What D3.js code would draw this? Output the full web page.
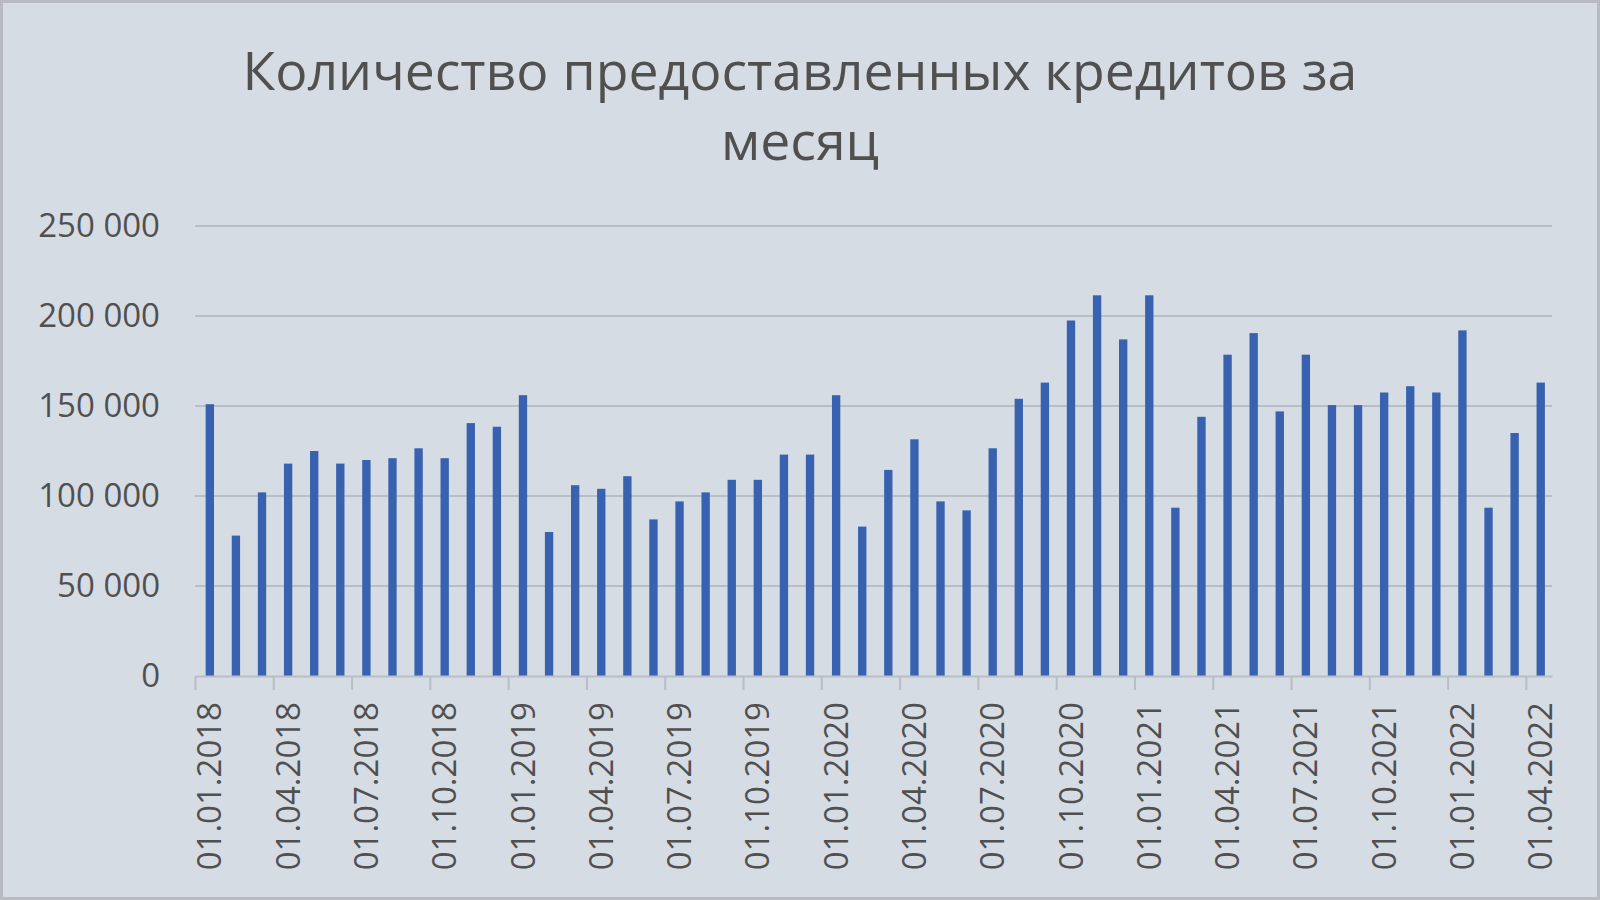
<!DOCTYPE html>
<html>
<head>
<meta charset="utf-8">
<script src="https://cdn.jsdelivr.net/npm/d3@7"></script>
<style>
  html, body { margin: 0; padding: 0; background: #d6dce4; }
  svg { display: block; }
</style>
</head>
<body>
<svg id="chart" width="1600" height="900"></svg>
<script>
// months (first day of each month), one bar per month
var months = [
  "01.01.2018","01.02.2018","01.03.2018","01.04.2018","01.05.2018","01.06.2018",
  "01.07.2018","01.08.2018","01.09.2018","01.10.2018","01.11.2018","01.12.2018",
  "01.01.2019","01.02.2019","01.03.2019","01.04.2019","01.05.2019","01.06.2019",
  "01.07.2019","01.08.2019","01.09.2019","01.10.2019","01.11.2019","01.12.2019",
  "01.01.2020","01.02.2020","01.03.2020","01.04.2020","01.05.2020","01.06.2020",
  "01.07.2020","01.08.2020","01.09.2020","01.10.2020","01.11.2020","01.12.2020",
  "01.01.2021","01.02.2021","01.03.2021","01.04.2021","01.05.2021","01.06.2021",
  "01.07.2021","01.08.2021","01.09.2021","01.10.2021","01.11.2021","01.12.2021",
  "01.01.2022","01.02.2022","01.03.2022","01.04.2022"
];

// number of loans per month
var loans = [
  151000, 78000, 102000, 118000, 125000, 118000,
  120000, 121000, 126500, 121000, 140500, 138500,
  156000, 80000, 106000, 104000, 111000, 87000,
  97000, 102000, 109000, 109000, 123000, 123000,
  156000, 83000, 114500, 131500, 97000, 92000,
  126500, 154000, 163000, 197500, 211500, 187000,
  211500, 93500, 144000, 178500, 190500, 147000,
  178500, 150500, 150500, 157500, 161000, 157500,
  192000, 93500, 135000, 163000
];

// labelled months on the x axis (every quarter)
var xTickLabels = [
  "01.01.2018","01.04.2018","01.07.2018","01.10.2018",
  "01.01.2019","01.04.2019","01.07.2019","01.10.2019",
  "01.01.2020","01.04.2020","01.07.2020","01.10.2020",
  "01.01.2021","01.04.2021","01.07.2021","01.10.2021",
  "01.01.2022","01.04.2022"
];

var yTicks = [0, 50000, 100000, 150000, 200000, 250000];

var titleLines = ["Количество предоставленных кредитов за", "месяц"];

var textColor = "#505050";
var gridColor = "#b9bdc5";
var barColor = "#3862b0";
var font = "'Open Sans', 'Noto Sans', sans-serif";

var svg = d3.select("#chart");

// background + outer frame
svg.append("rect")
  .attr("x", 1.5).attr("y", 1.5)
  .attr("width", 1597).attr("height", 897)
  .attr("fill", "#d6dce4")
  .attr("stroke", "#b7bac1")
  .attr("stroke-width", 3);

// plot area edges
var plotL = 195, plotR = 1552, plotT = 226, plotB = 676;

// scales
var x = d3.scaleBand()
  .domain(months)
  .range([plotL, plotR])
  .paddingInner(0.68)
  .paddingOuter(0.34)
  .align(0.6);

var xSlot = d3.scaleLinear()
  .domain([0, months.length])
  .range([plotL, plotR]);

var y = d3.scaleLinear()
  .domain([0, 250000])
  .range([plotB, plotT]);

// gridlines
svg.append("g")
  .selectAll("line")
  .data(yTicks.filter(d => d > 0))
  .enter()
  .append("line")
    .attr("x1", plotL)
    .attr("x2", plotR)
    .attr("y1", d => y(d))
    .attr("y2", d => y(d))
    .attr("stroke", gridColor)
    .attr("stroke-width", 2);

// y axis labels (no axis line)
var fmt = d => d3.format(",")(d).replace(/,/g, " ");
var yAxis = svg.append("g")
  .attr("transform", "translate(" + plotL + ",0)")
  .call(d3.axisLeft(y).tickValues(yTicks).tickFormat(fmt).tickSize(0).tickPadding(35));
yAxis.select(".domain").remove();
yAxis.selectAll("text")
  .attr("fill", textColor)
  .style("font-family", font)
  .style("font-size", "33px");

// bars
svg.append("g")
  .selectAll("rect")
  .data(loans)
  .enter()
  .append("rect")
    .attr("x", (d, i) => x(months[i]))
    .attr("y", d => y(d))
    .attr("width", x.bandwidth())
    .attr("height", d => y(0) - y(d))
    .attr("fill", barColor);

// x axis line + quarter tick marks at slot edges
var tickIdx = xTickLabels.map(l => months.indexOf(l));
var xTicksAxis = svg.append("g")
  .attr("transform", "translate(0," + plotB + ")")
  .call(d3.axisBottom(xSlot).tickValues(tickIdx).tickFormat("").tickSize(14).tickSizeOuter(0));
xTicksAxis.select(".domain").attr("stroke", gridColor).attr("stroke-width", 2);
xTicksAxis.selectAll(".tick line").attr("stroke", gridColor).attr("stroke-width", 2);

// x labels, centred on their month slot, rotated
var xLabels = svg.append("g")
  .attr("transform", "translate(0," + plotB + ")")
  .call(d3.axisBottom(x).tickValues(xTickLabels).tickSize(0).tickPadding(0));
xLabels.select(".domain").remove();
xLabels.selectAll("text")
  .attr("fill", textColor)
  .style("font-family", font)
  .style("font-size", "33px")
  .attr("text-anchor", "end")
  .attr("dy", "0.35em")
  .attr("transform", "translate(0,26) rotate(-90)")
  .attr("x", 0)
  .attr("y", 0);

// title
var title = svg.append("g")
  .selectAll("text")
  .data(titleLines)
  .enter()
  .append("text")
    .attr("x", 800)
    .attr("y", (d, i) => 90 + i * 70)
    .attr("text-anchor", "middle")
    .attr("fill", textColor)
    .style("font-family", font)
    .style("font-size", "100px")
    .text(d => d);

// scale the title so the first line spans the same width as in the original
var w = title.nodes()[0].getComputedTextLength();
title.style("font-size", (100 * 1115 / w) + "px");
</script>
</body>
</html>
